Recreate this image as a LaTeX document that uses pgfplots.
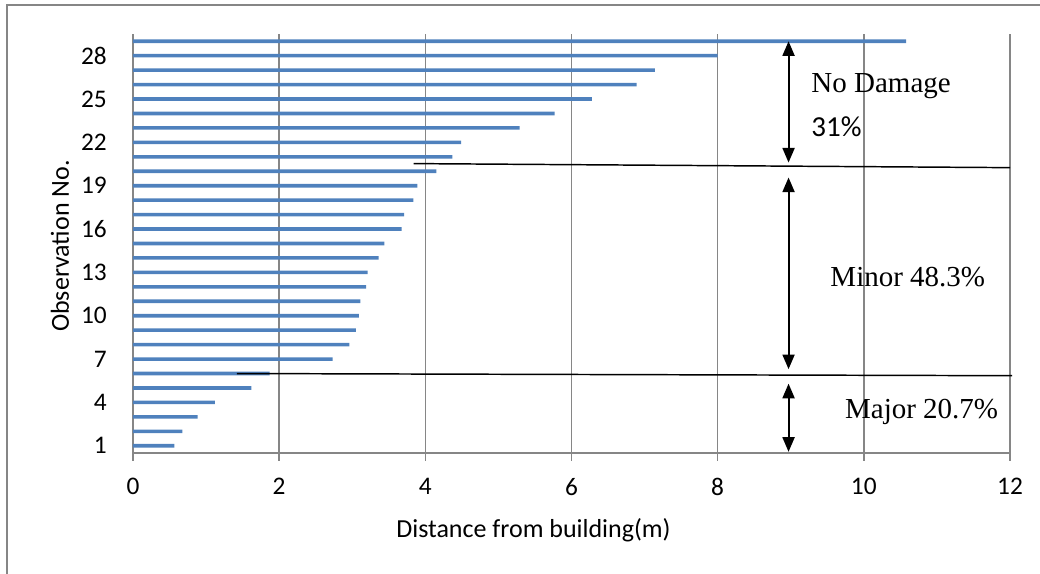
\documentclass[border=0pt]{standalone}
\usepackage{pgfplots}
\pgfplotsset{compat=1.18}
\usepackage{fontspec}
\setmainfont{Carlito}
\newfontfamily\tnr{Liberation Serif}
\usetikzlibrary{arrows.meta}
\definecolor{barblue}{RGB}{79,129,189}
\definecolor{gridgray}{RGB}{134,134,134}
\pgfplotstableread{
obs dist
1 0.566
2 0.675
3 0.885
4 1.12
5 1.62
6 1.87
7 2.73
8 2.96
9 3.05
10 3.09
11 3.11
12 3.19
13 3.21
14 3.36
15 3.44
16 3.675
17 3.71
18 3.835
19 3.89
20 4.15
21 4.37
22 4.49
23 5.29
24 5.77
25 6.28
26 6.89
27 7.14
28 8.00
29 10.58
}\distdata
\begin{document}
\begin{tikzpicture}
\useasboundingbox (-99.75pt,-90.75pt) rectangle (680.25pt,339.75pt);
\draw[gridgray, line width=1.1pt] (-94.5pt,-95pt) -- (-94.5pt,336pt) -- (685pt,336pt);
\begin{axis}[
  at={(0,0)}, anchor=south west,
  scale only axis, width=657.75pt, height=314.25pt,
  xmin=0, xmax=12, ymin=0.5, ymax=29.5,
  xtick={0,2,...,12}, ytick={1,4,...,28},
  axis x line=bottom, axis y line=left,
  axis line style={-, gridgray, line width=1.1pt},
  xmajorgrids, grid style={gridgray, line width=1.1pt},
  tick align=outside,
  xtick style={gridgray, line width=1.1pt},
  major tick length=6pt,
  ytick style={draw=none},
  /pgf/number format/assume math mode=true,
  tick label style={font=\fontsize{19}{21}\selectfont, text=black},
  xticklabel style={inner sep=0pt, anchor=north, yshift=-12.5pt},
  yticklabel style={inner sep=0pt, anchor=east, xshift=-13.5pt},
  xlabel={Distance from building(m)},
  ylabel={Observation No.},
  label style={font=\fontsize{19.5}{22}\selectfont},
  xlabel style={at={(rel axis cs:0.4567,-0.1838)}, anchor=center},
  ylabel style={at={(rel axis cs:-0.0832,0.494)}, anchor=center},
  clip=false,
]
\addplot[xbar, bar width=2.7pt, fill=barblue, draw=none] table[x=dist, y=obs] {\distdata};
% separating lines
\draw[black, line width=1.1pt] (axis cs:3.84,20.53) -- (axis cs:12,20.25);
\draw[black, line width=1.1pt] (axis cs:1.42,6.0) -- (axis cs:12.03,5.85);
% arrows
\draw[black, line width=1.5pt, {Triangle[width=9pt,length=11pt]}-{Triangle[width=9pt,length=11pt]}] (axis cs:8.97,29.0) -- (axis cs:8.97,20.6);
\draw[black, line width=1.5pt, {Triangle[width=9pt,length=11pt]}-{Triangle[width=9pt,length=11pt]}] (axis cs:8.97,19.57) -- (axis cs:8.97,6.3);
\draw[black, line width=1.5pt, {Triangle[width=9pt,length=11pt]}-{Triangle[width=9pt,length=11pt]}] (axis cs:8.97,5.3) -- (axis cs:8.97,0.58);
% labels
\node[anchor=west, inner sep=0pt, font=\tnr\fontsize{21.75}{24}\selectfont] at (axis cs:9.28,25.9) {No Damage};
\node[anchor=west, inner sep=0pt, font=\fontsize{21.75}{24}\selectfont] at (axis cs:9.28,23.05) {31\%};
\node[anchor=west, inner sep=0pt, font=\tnr\fontsize{21.75}{24}\selectfont] at (axis cs:9.54,12.7) {Minor 48.3\%};
\node[anchor=west, inner sep=0pt, font=\tnr\fontsize{21.75}{24}\selectfont] at (axis cs:9.74,3.36) {Major 20.7\%};
\end{axis}
\end{tikzpicture}
\end{document}
